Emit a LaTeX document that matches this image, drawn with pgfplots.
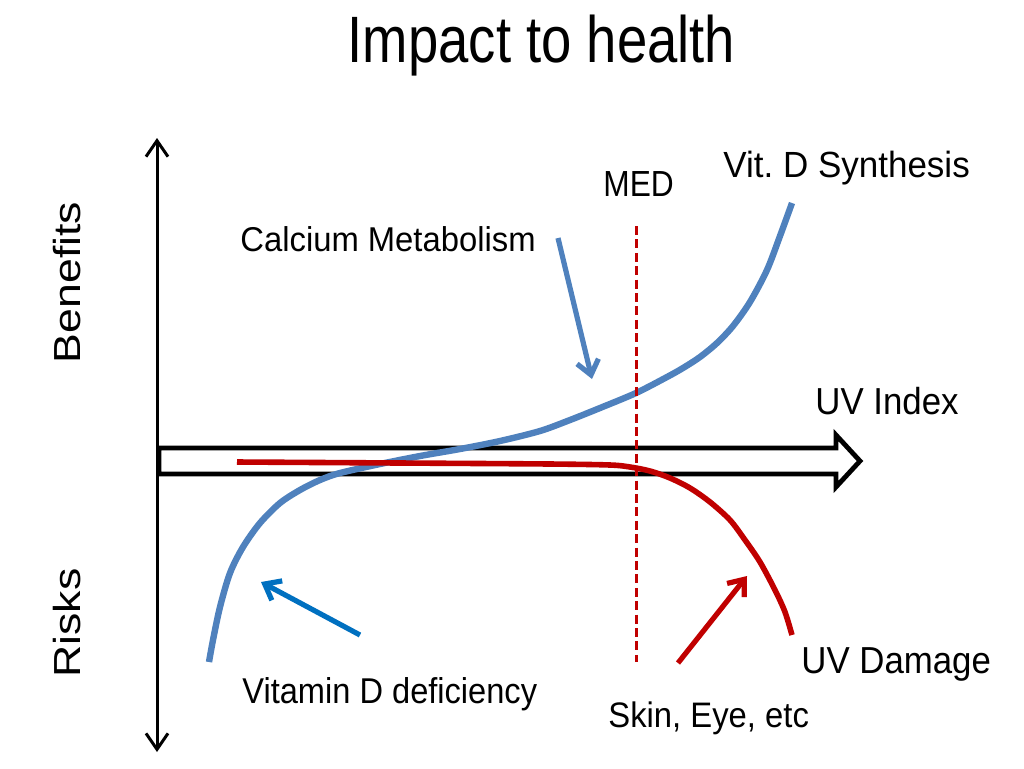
\documentclass[border=0pt]{standalone}
\usepackage{pgfplots}
\pgfplotsset{compat=1.18}
\usepackage{fontspec}
\setmainfont{Liberation Sans}
\usetikzlibrary{arrows.meta}
\definecolor{curveblue}{HTML}{4F81BD}
\definecolor{arrowblue}{HTML}{0070C0}
\definecolor{darkred}{HTML}{C00000}
\begin{document}
\frenchspacing
\begin{tikzpicture}
\begin{axis}[
  scale only axis, width=512pt, height=384pt,
  xmin=0, xmax=1024, ymin=0, ymax=768, y dir=reverse,
  hide axis, clip=false]
\path (axis cs:0,0) rectangle (axis cs:1024,768);
% block arrow (UV Index)
\addplot[draw=black, line width=2.4pt, fill=white, line join=miter] coordinates {
 (159,448) (836,448) (836,435) (860,461) (836,487) (836,474) (159,474)} -- cycle;
% vertical axis
\addplot[black, line width=1.5pt, {Straight Barb[length=8pt,width=11pt]}-{Straight Barb[length=8pt,width=11pt]}] coordinates {(157,138) (157,752)};
% Vitamin D synthesis curve
\addplot[curveblue, line width=3.2pt, smooth, tension=0.5] coordinates {
 (209,662) (213,640) (220,607) (230,573) (243,547) (260,523) (280,503) (300,490)
 (320,480) (340,473) (380,464) (420,456) (460,449) (500,441) (540,431) (570,420)
 (600,408) (636,393) (667,377) (683,368) (700,357) (717,343) (733,326) (750,302)
 (767,270) (780,236) (792,203)};
% UV damage curve
\addplot[darkred, line width=2.8pt, smooth, tension=0.5] coordinates {
 (237,462) (400,463) (550,464) (610,465) (630,467) (650,471) (670,478) (690,488)
 (710,502) (730,520) (745,540) (760,562) (775,590) (785,612) (792,635)};
% MED line
\addplot[darkred, line width=1.5pt, dash pattern=on 4.5pt off 2.2pt] coordinates {(636,226) (636,662)};
% annotation arrows
\addplot[curveblue, line width=2.6pt, -{Straight Barb[length=7pt,width=11pt]}] coordinates {(558,238) (592,379)};
\addplot[arrowblue, line width=2.6pt, -{Straight Barb[length=7pt,width=11pt]}] coordinates {(360,635) (261,582)};
\addplot[darkred, line width=2.6pt, -{Straight Barb[length=7pt,width=11pt]}] coordinates {(678,663) (747,576)};
% texts
\node[anchor=base, font=\fontsize{32.8}{36}\selectfont, xscale=0.83, inner sep=0pt] at (axis cs:541.5,62) {Impact to health};
\node[anchor=base, rotate=90, yscale=0.845, font=\fontsize{22.3}{26}\selectfont, inner sep=0pt] at (axis cs:80,282.5) {Benefits};
\node[anchor=base, rotate=90, yscale=0.845, font=\fontsize{22.3}{26}\selectfont, inner sep=0pt] at (axis cs:80,623) {Risks};
\node[anchor=base west, font=\fontsize{17.5}{20}\selectfont, yscale=1.04, inner sep=0pt] at (axis cs:723,177) {Vit. D Synthesis};
\node[anchor=base west, font=\fontsize{16.5}{20}\selectfont, yscale=1.1, xscale=0.96, inner sep=0pt] at (axis cs:603,196) {MED};
\node[anchor=base west, font=\fontsize{16.4}{20}\selectfont, yscale=1.05, inner sep=0pt] at (axis cs:240,251) {Calcium Metabolism};
\node[anchor=base west, font=\fontsize{17.4}{20}\selectfont, yscale=1.08, inner sep=0pt] at (axis cs:815,414) {UV Index};
\node[anchor=base west, font=\fontsize{17.4}{20}\selectfont, yscale=1.08, inner sep=0pt] at (axis cs:801,673) {UV Damage};
\node[anchor=base west, font=\fontsize{16.3}{20}\selectfont, yscale=1.1, inner sep=0pt] at (axis cs:242,703) {Vitamin D deficiency};
\node[anchor=base west, font=\fontsize{16.4}{20}\selectfont, yscale=1.08, inner sep=0pt] at (axis cs:608,727) {Skin, Eye, etc};
\end{axis}
\end{tikzpicture}
\end{document}
